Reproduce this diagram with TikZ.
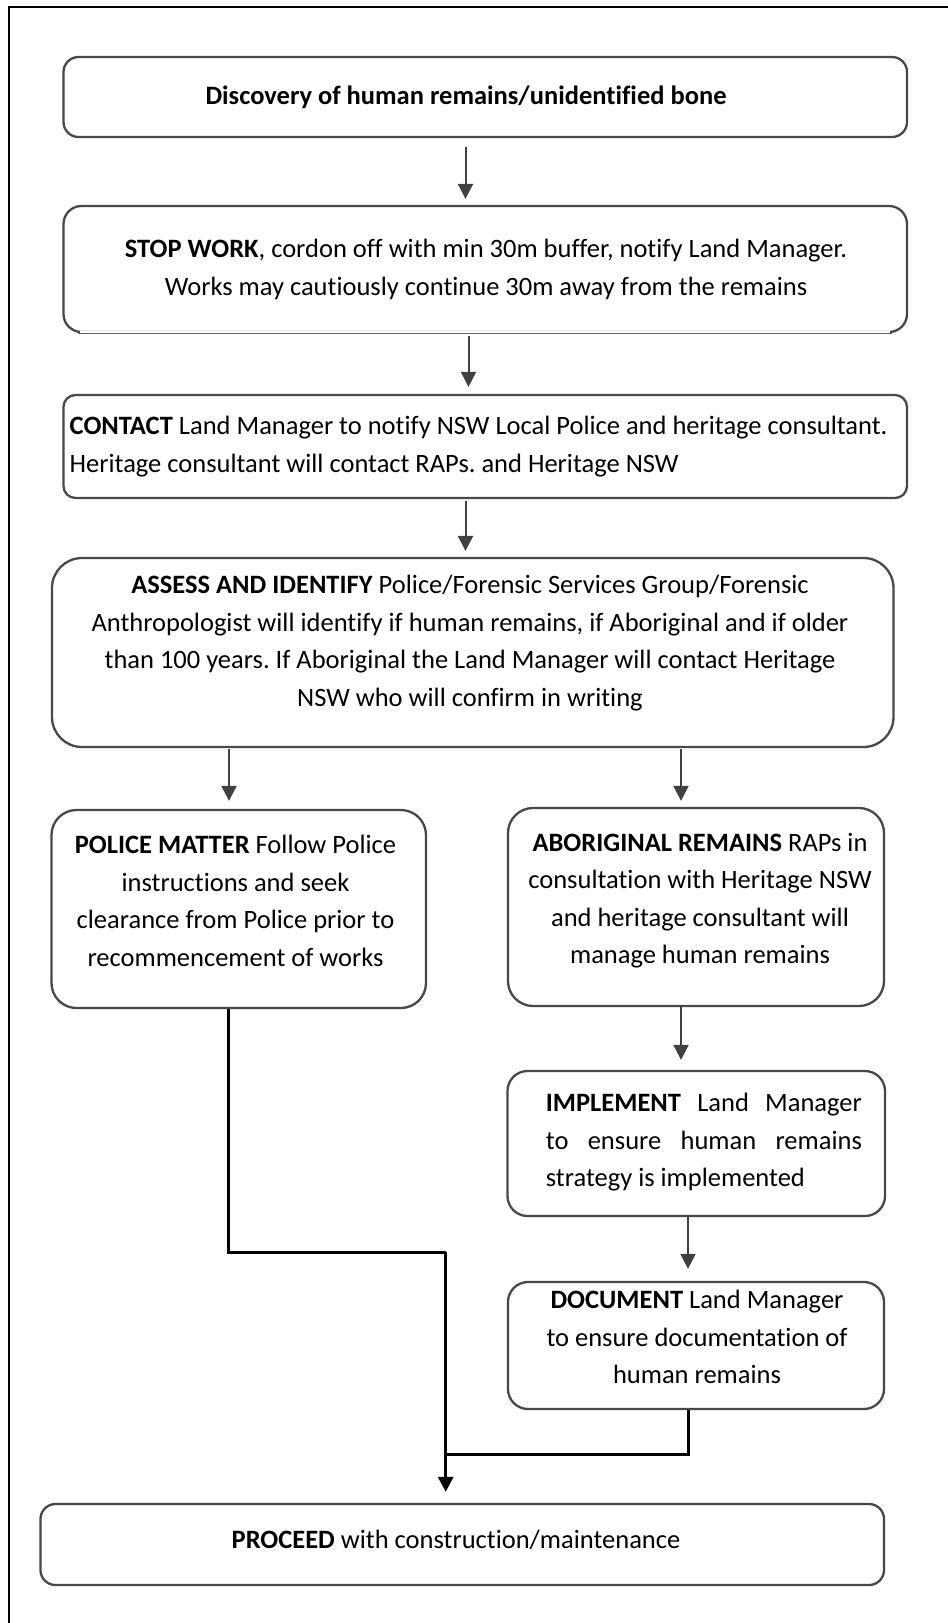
\documentclass[tikz,border=0pt]{standalone}
\usepackage{fontspec}
\setmainfont[Ligatures={NoCommon}]{Carlito}
\frenchspacing
\usetikzlibrary{arrows.meta}
\definecolor{boxc}{RGB}{72,72,72}
\definecolor{arrc}{RGB}{64,64,64}
\begin{document}
\begin{tikzpicture}[x=1pt,y=-1pt,
  flowbox/.style={draw=boxc, line width=2.3pt, rounded corners=#1, inner sep=0pt, fill=none},
  flowbox/.default=20pt,
  txt/.style={font={\fontsize{26.5pt}{37.5pt}\selectfont\frenchspacing}, inner sep=0pt, anchor=north, align=center, execute at begin node=\strut},
  arr/.style={draw=arrc, line width=2pt, -{Triangle[width=15pt,length=15pt]}},
  blk/.style={draw=black, line width=3pt},
  blkarr/.style={draw=black, line width=3pt, -{Triangle[width=15pt,length=15pt]}}
]
\useasboundingbox (0,0) rectangle (948,1623);
\fill[white] (0,0) rectangle (948,1623);
\draw[line width=2.5pt] (9,1625) -- (9,7) -- (950,7);

% boxes
\node[flowbox=15pt, minimum width=843.5pt, minimum height=80pt] (disc) at (485.25,97) {};
\node[flowbox=18pt, minimum width=843.5pt, minimum height=126pt] (stop) at (485.25,269) {};
\node[flowbox=12pt, minimum width=843.5pt, minimum height=103pt] (contact) at (485.25,446.5) {};
\node[flowbox=30pt, minimum width=841.5pt, minimum height=189pt] (assess) at (472.75,652.5) {};
\node[flowbox=25pt, minimum width=374.5pt, minimum height=198pt] (police) at (238.75,909) {};
\node[flowbox=25pt, minimum width=376pt, minimum height=198pt] (abor) at (696,907) {};
\node[flowbox=20pt, minimum width=377.5pt, minimum height=145pt] (impl) at (696.25,1143.5) {};
\node[flowbox=20pt, minimum width=376pt, minimum height=127pt] (doc) at (696,1345.5) {};
\node[flowbox=15pt, minimum width=843.5pt, minimum height=81pt] (proceed) at (462.25,1544.5) {};
% thin bottom edge of the STOP WORK box, as in the original
\draw[white, line width=3.5pt] ([xshift=18pt]stop.south west) -- ([xshift=-18pt]stop.south east);
\draw[boxc!85, line width=1.2pt] ([xshift=16pt]stop.south west) -- ([xshift=-16pt]stop.south east);

% texts (north = first baseline - 26.25)
\node[txt] (discT) at (466,78) {\textbf{Discovery of human remains/unidentified bone}};
\node[txt] (stopT) at (486,239) {\textbf{STOP WORK}, cordon off with min 30m buffer, notify Land Manager.\\Works may cautiously continue 30m away from the remains};
\node[txt, anchor=north west, align=left] (contactT) at (69.5,416) {\textbf{CONTACT} Land Manager to notify NSW Local Police and heritage consultant.\\Heritage consultant will contact RAPs. and Heritage NSW};
\node[txt] (assessT) at (470,575) {\textbf{ASSESS AND IDENTIFY} Police/Forensic Services Group/Forensic\\Anthropologist will identify if human remains, if Aboriginal and if older\\than 100 years. If Aboriginal the Land Manager will contact Heritage\\NSW who will confirm in writing};
\node[txt] (policeT) at (235.5,835) {\textbf{POLICE MATTER} Follow Police\\instructions and seek\\clearance from Police prior to\\recommencement of works};
\node[txt] (aborT) at (700,833) {\textbf{ABORIGINAL REMAINS} RAPs in\\consultation with Heritage NSW\\and heritage consultant will\\manage human remains};
\node[txt, anchor=north west, align=left] (implT) at (545.7,1093) {\makebox[316pt][s]{\textbf{IMPLEMENT} Land Manager}\\\makebox[316pt][s]{to ensure human remains}\\strategy is implemented};
\node[txt] (docT) at (697,1290) {\textbf{DOCUMENT} Land Manager\\to ensure documentation of\\human remains};
\node[txt] (proceedT) at (456,1522) {\textbf{PROCEED} with construction/maintenance};

% connectors
\draw[arr, shorten <=9pt, shorten >=6pt] ([xshift=-19.75pt]disc.south) -- ([xshift=-19.75pt]stop.north);
\draw[arr, shorten <=3pt, shorten >=7pt] ([xshift=-16.75pt]stop.south) -- ([xshift=-16.75pt]contact.north);
\draw[arr, shorten <=2pt, shorten >=6pt] ([xshift=-19.75pt]contact.south) -- ([xshift=-7.25pt]assess.north);
\draw[arr, shorten <=1pt, shorten >=8pt] ([xshift=-243.75pt]assess.south) -- ([xshift=-9.75pt]police.north);
\draw[arr, shorten <=1pt, shorten >=6pt] ([xshift=208.25pt]assess.south) -- ([xshift=-15pt]abor.north);
\draw[arr, shorten >=10pt] ([xshift=-15pt]abor.south) -- ([xshift=-15.25pt]impl.north);
\draw[arr, shorten >=12pt] ([xshift=-8.25pt]impl.south) -- ([xshift=-8pt]doc.north);
\coordinate (j1) at (445.7,1252);
\coordinate (j2) at (445.7,1454);
\draw[blk] ([xshift=-10.25pt]police.south) |- (j1);
\draw[blkarr, shorten >=11pt] (j1) -- ([xshift=-16.55pt]proceed.north);
\draw[blk] ([xshift=-8pt]doc.south) |- (j2);
\end{tikzpicture}
\end{document}
